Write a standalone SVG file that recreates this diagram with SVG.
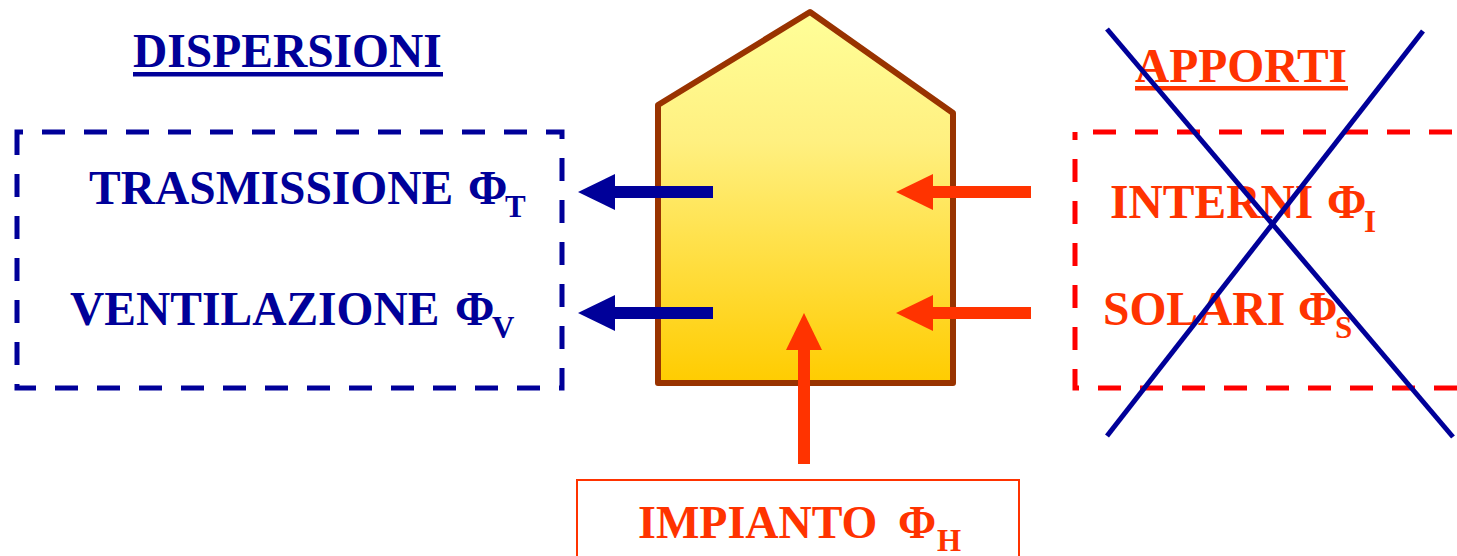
<svg xmlns="http://www.w3.org/2000/svg" width="1457" height="556" viewBox="0 0 1457 556">
<defs>
<linearGradient id="houseFill" x1="0" y1="0" x2="0" y2="1">
<stop offset="0" stop-color="#FFFF99"/>
<stop offset="0.35" stop-color="#FFF080"/>
<stop offset="1" stop-color="#FFCC00"/>
</linearGradient>
<marker id="headBlue" markerUnits="userSpaceOnUse" markerWidth="37" markerHeight="36" refX="1" refY="18" orient="auto" viewBox="0 0 37 36">
<path d="M0,0 L37,18 L0,36 z" fill="#000099"/>
</marker>
<marker id="headOrange" markerUnits="userSpaceOnUse" markerWidth="37" markerHeight="36" refX="1" refY="18" orient="auto" viewBox="0 0 37 36">
<path d="M0,0 L37,18 L0,36 z" fill="#FF3300"/>
</marker>
</defs>
<style>
text { font-family: "Liberation Serif", "Times New Roman", serif; font-weight: bold; }
.blue { fill: #000099; }
.orange { fill: #FF3300; }
.main { font-size: 47.5px; }
.sub { font-size: 31px; }
.arrowBlue { stroke: #000099; stroke-width: 12; fill: none; marker-end: url(#headBlue); }
.arrowOrange { stroke: #FF3300; stroke-width: 12; fill: none; marker-end: url(#headOrange); }
</style>
<rect width="1457" height="556" fill="#FFFFFF"/>

<g id="dispersioni-title">
<text class="blue main" x="133" y="67">DISPERSIONI</text>
<rect x="133" y="72" width="310" height="4.5" fill="#000099"/>
</g>

<g id="dispersioni-box">
<rect x="17" y="132" width="545" height="256" fill="none" stroke="#000099" stroke-width="5" stroke-dasharray="23 19" stroke-dashoffset="17"/>
<text class="blue main" x="89" y="204">TRASMISSIONE <tspan x="468">Φ</tspan><tspan class="sub" x="505" y="217">T</tspan></text>
<text class="blue main" x="70" y="325">VENTILAZIONE <tspan x="455">Φ</tspan><tspan class="sub" x="492" y="338">V</tspan></text>
</g>

<g id="house">
<polygon points="658,105 810,12 953,113 953,383 658,383" fill="url(#houseFill)" stroke="#993300" stroke-width="6" stroke-linejoin="round"/>
</g>

<g id="apporti-title">
<text class="orange main" x="1135" y="82">APPORTI</text>
<rect x="1135" y="86" width="213" height="4.5" fill="#FF3300"/>
</g>

<g id="apporti-box">
<rect x="1075" y="132" width="450" height="256" fill="none" stroke="#FF0000" stroke-width="5" stroke-dasharray="23 19" stroke-dashoffset="24"/>
<text class="orange main" x="1110" y="218">INTERNI <tspan x="1327">Φ</tspan><tspan class="sub" x="1364" y="232">I</tspan></text>
<text class="orange main" x="1103" y="325">SOLARI <tspan x="1298">Φ</tspan><tspan class="sub" x="1335" y="338">S</tspan></text>
</g>

<g id="impianto">
<rect x="577" y="480" width="442" height="100" fill="none" stroke="#FF3300" stroke-width="2"/>
<text class="orange" style="font-size:46px" x="638" y="538">IMPIANTO <tspan x="898">Φ</tspan><tspan class="sub" x="937" y="551">H</tspan></text>
</g>

<g id="connectors">
<line class="arrowBlue" x1="713" y1="192" x2="614" y2="192"/>
<line class="arrowBlue" x1="713" y1="313" x2="614" y2="313"/>
<line class="arrowOrange" x1="1031" y1="192" x2="932" y2="192"/>
<line class="arrowOrange" x1="1031" y1="313" x2="932" y2="313"/>
<line class="arrowOrange" x1="804" y1="464" x2="804" y2="349"/>
</g>

<g id="cross">
<line x1="1107" y1="29" x2="1453" y2="437" stroke="#000099" stroke-width="5"/>
<line x1="1423" y1="31" x2="1107" y2="436" stroke="#000099" stroke-width="5"/>
</g>
</svg>
